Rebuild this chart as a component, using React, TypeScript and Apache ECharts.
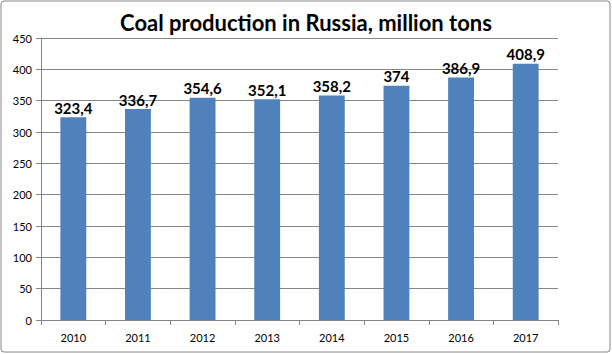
import React, { useEffect, useRef } from "react";
import * as echarts from "echarts";

const categories = ["2010", "2011", "2012", "2013", "2014", "2015", "2016", "2017"];
const values = [323.4, 336.7, 354.6, 352.1, 358.2, 374, 386.9, 408.9];
const titleText = "Coal production in Russia, million tons";

export default function App() {
  const ref = useRef<HTMLDivElement>(null);
  useEffect(() => {
    document.body.style.margin = "0";
    if (!ref.current) return;
    const chart = echarts.init(ref.current, null, { renderer: "svg" });
    chart.setOption({
      animation: false,
      backgroundColor: "#ffffff",
      title: {
        text: titleText,
        left: "center",
        top: 6,
        textStyle: { fontFamily: "Lato", fontWeight: "bold", fontSize: 22, color: "#000" },
      },
      graphic: [
        {
          type: "rect",
          shape: { x: 1, y: 1, width: 609, height: 351, r: 3 },
          style: { fill: "none", stroke: "#868686", lineWidth: 1 },
          silent: true,
        },
      ],
      grid: { left: 41, right: 54, top: 38, bottom: 34, containLabel: false },
      xAxis: {
        type: "category",
        data: categories,
        axisLine: { lineStyle: { color: "#868686" } },
        axisTick: { show: true, length: 5, lineStyle: { color: "#868686" } },
        axisLabel: { color: "#000", fontFamily: "Lato", fontSize: 11, margin: 12 },
      },
      yAxis: {
        type: "value",
        min: 0,
        max: 450,
        interval: 50,
        axisLine: { show: true, lineStyle: { color: "#868686" } },
        axisTick: { show: true, length: 5, lineStyle: { color: "#868686" } },
        axisLabel: { color: "#000", fontFamily: "Lato", fontSize: 11, margin: 9 },
        splitLine: { lineStyle: { color: "#868686" } },
      },
      series: [
        {
          type: "bar",
          data: values,
          barWidth: "40%",
          itemStyle: { color: "#4F81BD" },
          label: {
            show: true,
            position: "top",
            distance: 2,
            formatter: (p: any) => String(p.value).replace(".", ","),
            fontFamily: "Lato",
            fontWeight: "bold",
            fontSize: 15,
            color: "#000",
          },
        },
      ],
    });
    return () => chart.dispose();
  }, []);
  return <div ref={ref} style={{ width: 612, height: 354 }} />;
}
